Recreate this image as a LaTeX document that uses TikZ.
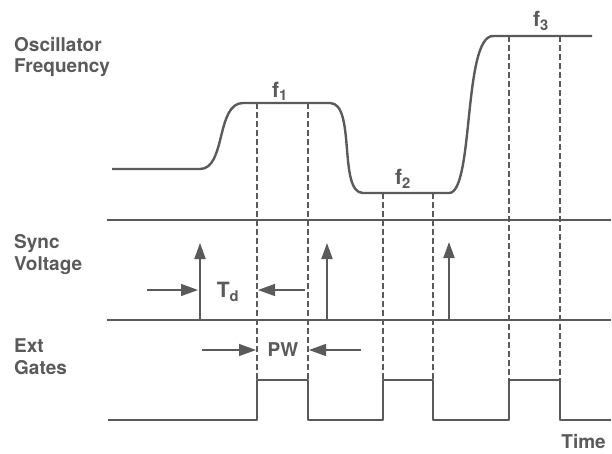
\documentclass[tikz,border=0pt]{standalone}
\usepackage{fontspec}
\setmainfont{TeX Gyre Heros}
\usetikzlibrary{arrows.meta}
\definecolor{ink}{HTML}{5A5A5A}
\tikzset{
  lbl/.style={font=\fontsize{19}{22}\selectfont\bfseries, text=ink, inner sep=0pt},
  sym/.style={font=\fontsize{21}{22}\selectfont\bfseries, text=ink, inner sep=0pt},
  wave/.style={draw=ink, line width=2.4pt, line join=round},
  base/.style={draw=ink, line width=1.5pt},
  guide/.style={draw=ink, line width=1.1pt, dash pattern=on 6pt off 3pt},
  pulse/.style={draw=ink, line width=2pt, -{Triangle[length=16pt,width=11pt]}},
  hint/.style={draw=ink, line width=1.4pt, -{Triangle[length=17pt,width=12pt]}}
}
\begin{document}
\begin{tikzpicture}[x=1pt,y=-1pt]
\useasboundingbox (0,0) rectangle (612,453);
% labels
\node[lbl, anchor=base west] (osc) at (14,51) {Oscillator};
\node[lbl, anchor=base west] (freq) at (14,72) {Frequency};
\node[lbl, anchor=base west] (sync) at (14,248) {Sync};
\node[lbl, anchor=base west] (volt) at (14,270) {Voltage};
\node[lbl, anchor=base west] (ext) at (14,352) {Ext};
\node[lbl, anchor=base west] (gates) at (14,374) {Gates};
\node[lbl, anchor=base east] (time) at (606,448) {Time};
\node[sym] (f1) at (280,91) {f\textsubscript{1}};
\node[sym] (f2) at (403,179) {f\textsubscript{2}};
\node[sym] (f3) at (541,21) {f\textsubscript{3}};
\node[sym] (td) at (228,292) {T\textsubscript{d}};
\node[lbl] (pw) at (283,350) {PW};
% frequency waveform
\draw[wave] (112,169) -- (200,169) .. controls (226,169) and (216,103) .. (243,103)
  -- (330,103) .. controls (356,103) and (338,193) .. (363,193)
  -- (449,193) .. controls (474,193) and (463,36) .. (493,36) -- (592,36);
% separator / baselines
\draw[base] (107,220) -- (611,220);
\draw[base] (107,320) -- (611,320);
% gate waveform
\draw[wave, line width=2pt] (108,420) -- (257,420) -- (257,380) -- (308,380) -- (308,420)
  -- (383,420) -- (383,380) -- (433,380) -- (433,420)
  -- (509,420) -- (509,380) -- (560,380) -- (560,420) -- (611,420);
% dashed guides
\draw[guide] (257,103) -- (257,380);
\draw[guide] (308,103) -- (308,380);
\draw[guide] (383,193) -- (383,380);
\draw[guide] (433,193) -- (433,380);
\draw[guide] (509,36) -- (509,380);
\draw[guide] (560,36) -- (560,380);
% sync pulses
\coordinate (s1a) at (200,320); \coordinate (s1b) at (200,243);
\coordinate (s2a) at (327,320); \coordinate (s2b) at (327,243);
\coordinate (s3a) at (449,320); \coordinate (s3b) at (449,242);
\draw[pulse] (s1a) -- (s1b);
\draw[pulse] (s2a) -- (s2b);
\draw[pulse] (s3a) -- (s3b);
% Td arrows
\coordinate (ta) at (147,290); \coordinate (tb) at (198,290);
\coordinate (tc) at (305,290); \coordinate (tdd) at (258,290);
\draw[hint] (ta) -- (tb);
\draw[hint] (tc) -- (tdd);
% PW arrows
\coordinate (pa) at (202,350); \coordinate (pb) at (256,350);
\coordinate (pc) at (361,350); \coordinate (pd) at (309,350);
\draw[hint] (pa) -- (pb);
\draw[hint] (pc) -- (pd);
\end{tikzpicture}
\end{document}
